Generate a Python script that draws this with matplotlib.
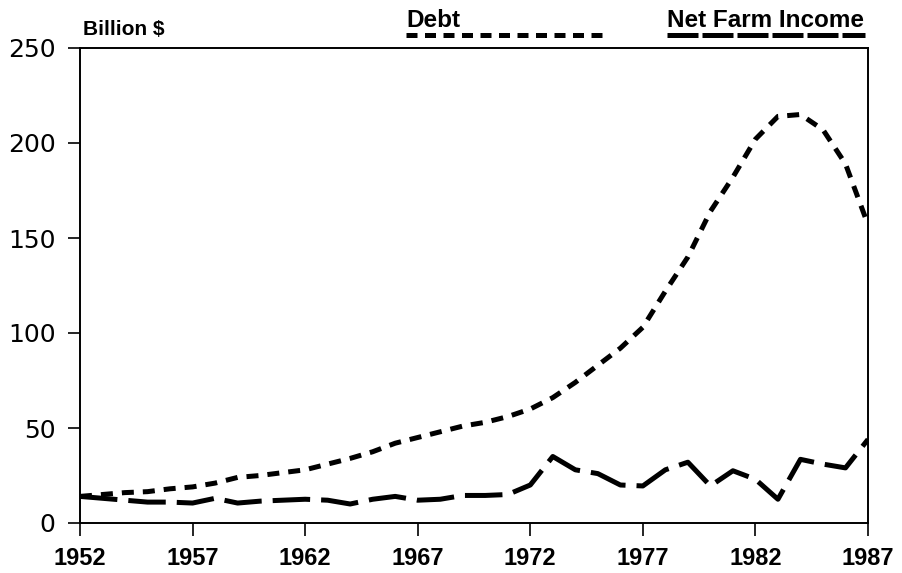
import matplotlib
matplotlib.use("Agg")
import matplotlib.pyplot as plt
from matplotlib.lines import Line2D

years = list(range(1952, 1988))
debt = [14, 15, 16, 16.5, 18, 19, 21, 24, 25, 26.5, 28, 31, 34, 37.5, 42, 45, 48, 51,
        53, 56, 60, 66, 74, 83, 92, 103, 122, 140, 164, 182, 202, 214, 215, 207, 189, 157]
income = [14, 13, 12, 11, 11, 10.5, 13, 10.5, 11.5, 12, 12.5, 12, 10, 12.5, 14, 12, 12.5, 14.5,
          14.5, 15, 20, 35, 28, 26, 20, 19.5, 28, 32, 19.5, 27.5, 23, 12.5, 33.5, 31, 29, 44]
xticks = [1952, 1957, 1962, 1967, 1972, 1977, 1982, 1987]
yticks = [0, 50, 100, 150, 200, 250]

fig = plt.figure(figsize=(9.03, 5.73), dpi=100)
ax = fig.add_axes([80/903, 1-523/573, 788/903, 475/573])

lw = 3.6
ax.plot(years, debt, color="black", lw=lw, dashes=(2.4, 1.8), solid_capstyle="butt")
ax.plot(years, income, color="black", lw=lw, dashes=(7.5, 2.2), solid_capstyle="butt")

ax.set_xlim(1952, 1987)
ax.set_ylim(0, 250)
ax.set_xticks(xticks)
ax.set_yticks(yticks)
ax.set_xticklabels([str(t) for t in xticks], fontfamily="Liberation Sans", fontweight="bold", fontsize=17)
ax.set_yticklabels([str(t) for t in yticks], fontfamily="DejaVu Sans", fontsize=18)
ax.tick_params(axis="x", direction="out", length=9, width=1.2, colors="black", pad=8)
ax.tick_params(axis="y", direction="out", length=8.5, width=1.2, colors="black", pad=9)
for s in ax.spines.values():
    s.set_linewidth(1.4)

# header / legend
fig.text(83/903, 1-35/573, "Billion $", fontfamily="Liberation Sans", fontweight="bold",
         fontsize=15, va="baseline", ha="left")
fig.text(406/903, 1-27/573, "Debt", fontfamily="Liberation Sans", fontweight="bold",
         fontsize=17.5, va="baseline", ha="left")
fig.text(667/903, 1-27/573, "Net Farm Income", fontfamily="Liberation Sans", fontweight="bold",
         fontsize=17.5, va="baseline", ha="left")
fig.add_artist(Line2D([406/903, 605/903], [1-34.5/573, 1-34.5/573], transform=fig.transFigure,
                      color="black", lw=lw, dashes=(2.2, 1.5)))
fig.add_artist(Line2D([667/903, 865/903], [1-34.5/573, 1-34.5/573], transform=fig.transFigure,
                      color="black", lw=lw, dashes=(6.2, 0.8)))

fig.savefig("out.png", dpi=100)
